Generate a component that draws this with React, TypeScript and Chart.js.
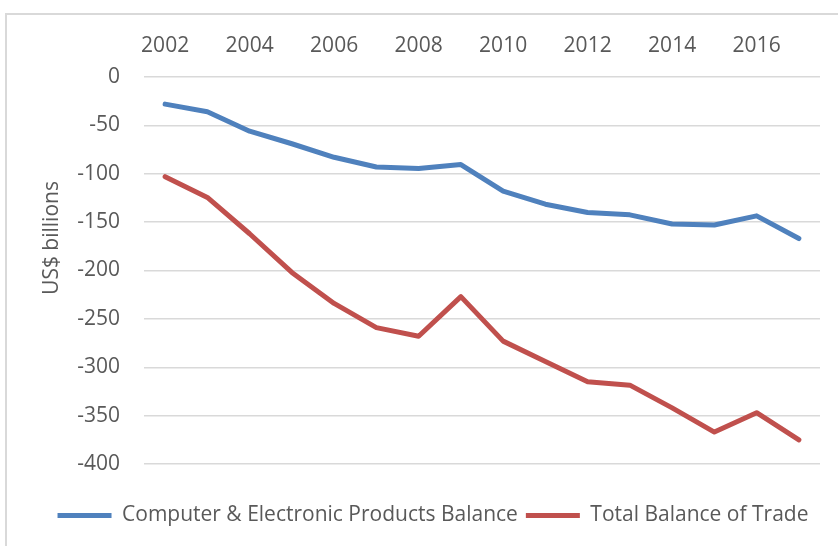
import React, { useEffect, useRef } from "react";
import { Chart, registerables } from "chart.js";

Chart.register(...registerables);

const years = [
  "2002", "2003", "2004", "2005", "2006", "2007", "2008", "2009",
  "2010", "2011", "2012", "2013", "2014", "2015", "2016", "2017",
];
const computerBalance = [
  -28, -36, -56, -69, -83, -93, -94.5, -90.5,
  -118, -131.5, -140, -142.5, -152, -153, -143.5, -167,
];
const totalBalance = [
  -103, -124.5, -162, -202, -234, -259, -268, -227,
  -273, -294, -315, -318.5, -342, -367, -347, -375,
];
const seriesNames = ["Computer & Electronic Products Balance", "Total Balance of Trade"];
const seriesColors = ["#4F81BD", "#C0504D"];
const yTitle = "US$ billions";
const yMin = -400;
const yMax = 0;
const yStep = 50;

const FONT = '"Open Sans", "Liberation Sans", sans-serif';
const TEXT = "#595959";
const GRID = "#d9d9d9";

const yTitlePlugin = {
  id: "yTitlePlugin",
  afterDraw(chart: any) {
    const ctx = chart.ctx;
    ctx.save();
    ctx.translate(52, 238);
    ctx.rotate(-Math.PI / 2);
    ctx.font = `21px ${FONT}`;
    ctx.fillStyle = TEXT;
    ctx.textAlign = "center";
    ctx.textBaseline = "middle";
    ctx.fillText(yTitle, 0, 0);
    ctx.restore();
  },
};

export default function App() {
  const ref = useRef<HTMLCanvasElement | null>(null);

  useEffect(() => {
    if (!ref.current) return;
    const chart = new Chart(ref.current, {
      type: "line",
      data: {
        labels: years,
        datasets: [
          {
            label: seriesNames[0],
            data: computerBalance,
            borderColor: seriesColors[0],
            backgroundColor: seriesColors[0],
            borderWidth: 5,
            pointRadius: 0,
            tension: 0,
            borderCapStyle: "round",
            borderJoinStyle: "round",
          },
          {
            label: seriesNames[1],
            data: totalBalance,
            borderColor: seriesColors[1],
            backgroundColor: seriesColors[1],
            borderWidth: 5,
            pointRadius: 0,
            tension: 0,
            borderCapStyle: "round",
            borderJoinStyle: "round",
          },
        ],
      },
      options: {
        responsive: false,
        animation: false,
        layout: { padding: { left: 46, right: 18, top: 20, bottom: 10 } },
        plugins: {
          tooltip: { enabled: false },
          legend: {
            position: "bottom",
            labels: {
              usePointStyle: true,
              pointStyle: "line",
              pointStyleWidth: 54,
              boxHeight: 5,
              color: TEXT,
              font: { family: FONT, size: 21 },
              padding: 8,
            },
          },
        },
        scales: {
          x: {
            type: "category",
            position: "top",
            offset: true,
            grid: { display: false, drawTicks: false },
            border: { display: false },
            ticks: {
              autoSkip: false,
              maxRotation: 0,
              color: TEXT,
              font: { family: FONT, size: 21 },
              padding: 18,
              callback: (_v: any, i: number) => (i % 2 === 0 ? years[i] : ""),
            },
            afterFit: (s: any) => {
              s.height = 57;
            },
          },
          xGap: {
            type: "linear",
            position: "bottom",
            display: true,
            grid: { display: false, drawTicks: false },
            border: { display: false },
            ticks: { display: false },
            afterFit: (s: any) => {
              s.height = 33;
            },
          },
          y: {
            min: yMin,
            max: yMax,
            grid: { color: GRID, lineWidth: 1.5, drawTicks: false },
            border: { display: false },
            ticks: {
              stepSize: yStep,
              color: TEXT,
              font: { family: FONT, size: 21 },
              padding: 24,
            },
            afterFit: (s: any) => {
              s.width = 98;
            },
          },
        },
      },
      plugins: [yTitlePlugin],
    });
    return () => chart.destroy();
  }, []);

  return (
    <div style={{ position: "fixed", left: 0, top: 0, width: 838, height: 546, overflow: "hidden", background: "#fff" }}>
      <div
        style={{
          position: "absolute",
          left: 5,
          top: 13,
          width: 900,
          height: 600,
          border: "2px solid #d9d9d9",
        }}
      />
      <canvas ref={ref} width={838} height={546} style={{ position: "absolute", left: 0, top: 0, width: 838, height: 546 }} />
    </div>
  );
}
